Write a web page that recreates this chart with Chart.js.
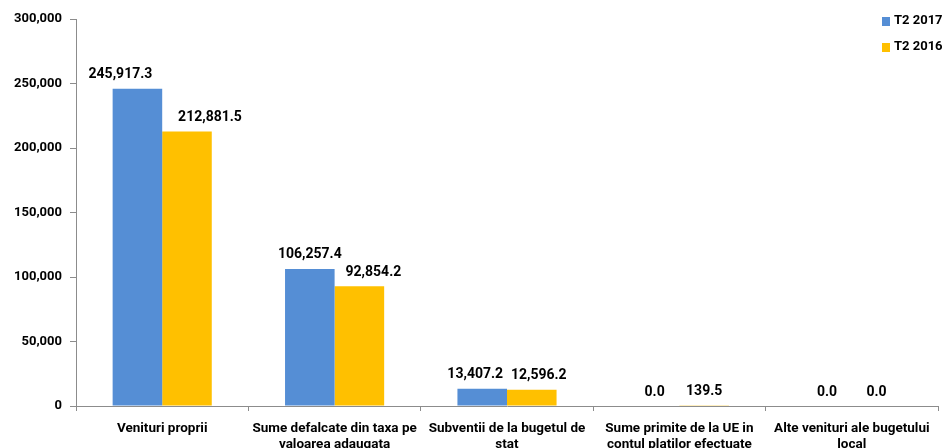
<!DOCTYPE html>
<html>
<head>
<meta charset="utf-8">
<script src="https://cdn.jsdelivr.net/npm/chart.js@4/dist/chart.umd.min.js"></script>
<style>
  html, body { margin: 0; padding: 0; background: #fff; }
  #wrap { width: 942px; height: 448px; }
</style>
</head>
<body>
<div id="wrap"><canvas id="chart"></canvas></div>
<script>
const categories = [
  ["Venituri proprii"],
  ["Sume defalcate din taxa pe", "valoarea adaugata"],
  ["Subventii de la bugetul de", "stat"],
  ["Sume primite de la UE in", "contul platilor efectuate"],
  ["Alte venituri ale bugetului", "local"]
];
const seriesNames = ["T2 2017", "T2 2016"];
const values2017 = [245917.3, 106257.4, 13407.2, 0.0, 0.0];
const values2016 = [212881.5, 92854.2, 12596.2, 139.5, 0.0];
const yTicks = [0, 50000, 100000, 150000, 200000, 250000, 300000];

const FONT = "Roboto, 'Open Sans', sans-serif";
const BLUE = "#558ED5";
const GOLD = "#FFC000";
const AXIS = "#8c8c8c";

// the labels in the original were dragged sideways a little so they don't collide
const labelNudge = [
  [-17, 0, -7, 0, 0],
  [23, 14, 7, 0, 0]
];

const valueLabels = {
  id: "valueLabels",
  afterDatasetsDraw(chart) {
    const ctx = chart.ctx;
    ctx.save();
    ctx.font = "bold 14px " + FONT;
    ctx.fillStyle = "#000";
    ctx.textAlign = "center";
    ctx.textBaseline = "bottom";
    chart.data.datasets.forEach((ds, i) => {
      chart.getDatasetMeta(i).data.forEach((bar, j) => {
        const txt = ds.data[j].toLocaleString("en-US", { minimumFractionDigits: 1, maximumFractionDigits: 1 });
        ctx.fillText(txt, bar.x + labelNudge[i][j], bar.y - 7);
      });
    });
    ctx.restore();
  }
};

const sideLegend = {
  id: "sideLegend",
  afterDraw(chart) {
    const ctx = chart.ctx;
    ctx.save();
    ctx.font = "bold 13px " + FONT;
    ctx.textAlign = "left";
    ctx.textBaseline = "middle";
    chart.data.datasets.forEach((ds, i) => {
      const y = 21 + i * 26;
      ctx.fillStyle = ds.backgroundColor;
      ctx.fillRect(882, y - 4, 8, 9);
      ctx.fillStyle = "#000";
      ctx.fillText(ds.label, 894, y);
    });
    ctx.restore();
  }
};

new Chart(document.getElementById("chart"), {
  type: "bar",
  data: {
    labels: categories,
    datasets: [
      { label: seriesNames[0], data: values2017, backgroundColor: BLUE },
      { label: seriesNames[1], data: values2016, backgroundColor: GOLD }
    ]
  },
  options: {
    responsive: true,
    maintainAspectRatio: false,
    animation: false,
    devicePixelRatio: 1,
    layout: { padding: { top: 19, right: 4, left: 0, bottom: 0 } },
    datasets: { bar: { categoryPercentage: 0.575, barPercentage: 1.0 } },
    plugins: {
      legend: { display: false },
      tooltip: { enabled: false }
    },
    scales: {
      x: {
        grid: { display: true, drawOnChartArea: false, drawTicks: true, tickLength: 5, color: AXIS, offset: true },
        border: { display: true, color: AXIS, width: 1 },
        ticks: {
          color: "#000",
          font: { family: FONT, size: 13.5, weight: "bold", lineHeight: 1.22 },
          padding: 9,
          maxRotation: 0,
          autoSkip: false
        },
        afterFit(scale) { scale.height = 42; }
      },
      y: {
        min: 0,
        max: 300000,
        afterBuildTicks(scale) { scale.ticks = yTicks.map(v => ({ value: v })); },
        grid: { display: true, drawOnChartArea: false, drawTicks: true, tickLength: 6, color: AXIS },
        border: { display: true, color: AXIS, width: 1 },
        ticks: {
          color: "#000",
          font: { family: FONT, size: 13, weight: "bold" },
          padding: 8,
          callback: v => v.toLocaleString("en-US")
        },
        afterFit(scale) { scale.width = 76; }
      }
    }
  },
  plugins: [valueLabels, sideLegend]
});
</script>
</body>
</html>
